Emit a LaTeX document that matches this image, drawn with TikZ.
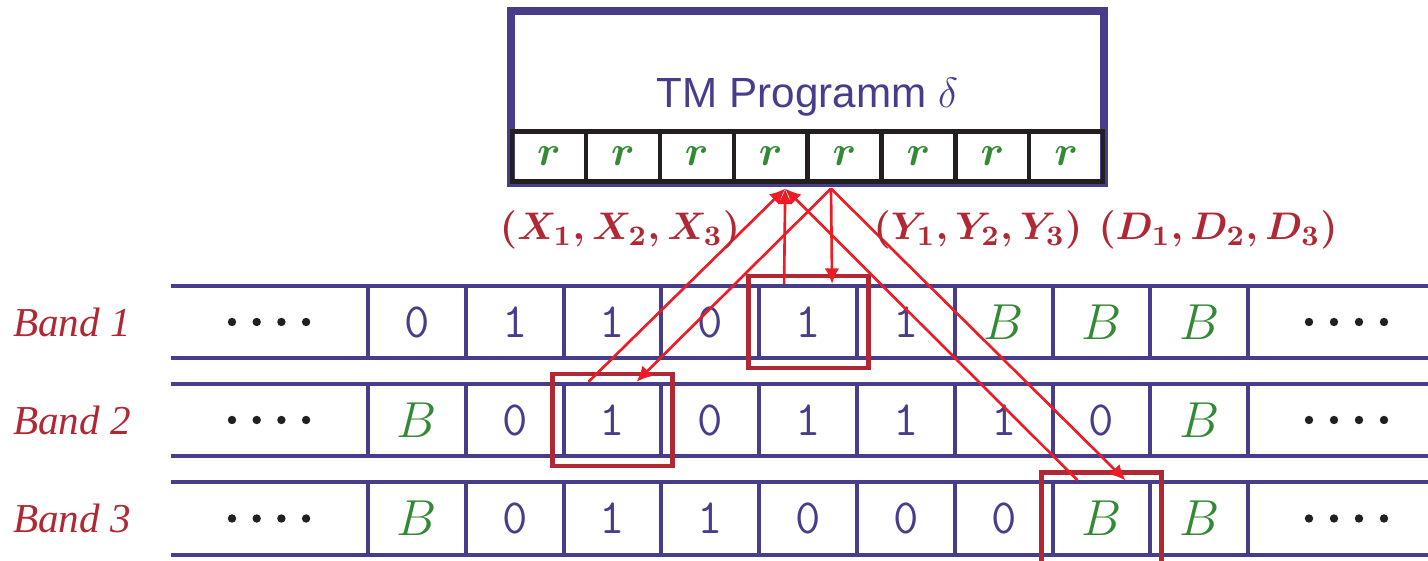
\documentclass[tikz,border=0pt]{standalone}
\usepackage{fontspec}
\newfontfamily\bandfont{Liberation Serif}
\newfontfamily\progfont{Liberation Sans}
\usepackage{xcolor}
\usepackage{tikz}
\usetikzlibrary{arrows.meta}

\definecolor{tapeblue}{RGB}{72,61,139}
\definecolor{symgreen}{RGB}{52,138,52}
\definecolor{headred}{RGB}{176,40,52}
\definecolor{arrred}{RGB}{237,28,36}
\definecolor{cellblack}{RGB}{35,31,32}

\newcommand{\blank}{\textcolor{symgreen}{$B$}}

\begin{document}
\begin{tikzpicture}[
  tapeline/.style={draw=tapeblue, line width=1.1pt},
  tapecell/.style={draw=tapeblue, line width=1.1pt, minimum width=0.978cm, minimum height=0.725cm, inner sep=0pt, text=tapeblue, font=\ttfamily\fontsize{14}{16}\selectfont},
  rcell/.style={draw=cellblack, line width=1.2pt, minimum width=0.739cm, minimum height=0.5cm, inner sep=0pt, text=symgreen, font=\fontsize{12}{14}\selectfont\boldmath},
  headbox/.style={draw=headred, line width=1.4pt, minimum width=1.2cm, minimum height=0.92cm, inner sep=0pt},
  rw/.style={draw=arrred, line width=0.75pt, -{Latex[length=4.4pt,width=4.2pt]}},
  bandlbl/.style={text=headred, font=\bandfont\itshape\fontsize{11.7}{14}\selectfont},
  tuple/.style={text=headred, font=\fontsize{11.3}{13}\selectfont\boldmath},
]
\useasboundingbox (0,0) rectangle (14.28,-5.61);

% program
\node[draw=tapeblue, line width=2.2pt, minimum width=5.93cm, minimum height=1.715cm, inner sep=0pt] (prog) at (8.075,-0.97) {};
\node[text=tapeblue, font=\progfont\fontsize{12}{14}\selectfont, anchor=base] (title) at (8.075,-1.08) {TM Programm $\delta$};
\foreach \i in {1,...,8}
  \node[rcell] (r\i) at (5.12+0.739*\i-0.3695,-1.565) {$r$};

% tapes
\foreach \bn/\y/\syms in {1/-3.22/{0,1,1,0,1,1,\blank,\blank,\blank},
                          2/-4.20/{\blank,0,1,0,1,1,1,0,\blank},
                          3/-5.185/{\blank,0,1,1,0,0,0,\blank,\blank}} {
  \node[bandlbl] (band\bn) at (0.72,\y) {Band \bn};
  \draw[tapeline] (1.71,\y+0.3625) -- (14.5,\y+0.3625) (1.71,\y-0.3625) -- (14.5,\y-0.3625);
  \foreach \s [count=\i] in \syms
    \node[tapecell] (b\bn-\i) at (3.68+0.978*\i-0.489,\y) {\s};
  \foreach \d in {0,...,3} {
    \fill[cellblack] (2.32+0.247*\d,\y) circle (0.042);
    \fill[cellblack] (13.09+0.25*\d,\y) circle (0.042);
  }
}

% heads
\node[headbox] (head1) at (b1-5) {};
\node[headbox] (head2) at (b2-3) {};
\node[headbox] (head3) at (b3-8) {};

% read and write
\coordinate (rd) at ([shift={(-0.245,-0.05)}]r4.south east);
\coordinate (wr) at ([shift={(0.255,-0.05)}]r5.south west);
\foreach \c in {b1-5,b2-3,b3-8} {
  \draw[rw] ([xshift=-0.24cm]\c.north) -- (rd);
  \draw[rw] (wr) -- ([xshift=0.24cm]\c.north);
}

\node[tuple] (xin) at (6.20,-2.30) {$(X_1, X_2, X_3)$};
\node[tuple] (yout) at (9.78,-2.30) {$(Y_1, Y_2, Y_3)$};
\node[tuple] (dmove) at (12.18,-2.30) {$(D_1, D_2, D_3)$};
\end{tikzpicture}
\end{document}
